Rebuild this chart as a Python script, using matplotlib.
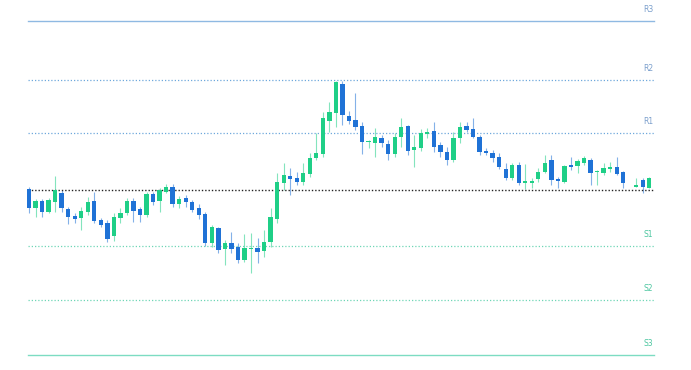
import numpy as np
import matplotlib
matplotlib.use("Agg")
import matplotlib.pyplot as plt

nan = np.nan
opens = [1.0851, 1.0832, 1.0839, 1.0828, 1.0838, 1.0847, 1.0831, 1.0824, 1.0822, 1.0828,
         1.0839, 1.0820, 1.0817, 1.0804, 1.0822, 1.0827, 1.0839, 1.0831, 1.0825, 1.0846,
         1.0839, 1.0848, 1.0853, 1.0836, 1.0842, 1.0838, 1.0832, 1.0826, 1.0797, 1.0812,
         1.0791, 1.0797, 1.0793, 1.0780, 1.07905, 1.0792, 1.0789, 1.0798, 1.0821, 1.0857,
         1.0864, 1.0862, 1.0858, 1.0866, 1.0882, 1.0886, 1.0919, 1.0927, 1.0956, 1.0924,
         1.0920, 1.0914, 1.0898, 1.0897, 1.0902, 1.0896, 1.0886, 1.0903, 1.0914, 1.0890,
         1.0892, 1.0906, 1.0909, 1.0895, 1.0888, 1.0880, 1.0902, 1.0914, 1.0911, 1.0903,
         1.0889, 1.0887, 1.0883, 1.0871, 1.0862, 1.0875, 1.08575, 1.08575, 1.0861, 1.0868,
         1.0880, 1.0861, 1.0858, 1.0875, 1.0874, 1.0877, 1.0880, 1.0868, 1.0867, 1.0871,
         1.0873, 1.0868, nan, 1.08535, 1.0860, 1.0852]
highs = [1.0853, 1.0841, 1.0841, 1.0842, 1.0864, 1.0850, 1.0833, 1.0827, 1.0833, 1.0843,
         1.0848, 1.0822, 1.0820, 1.0827, 1.0832, 1.0842, 1.0842, 1.0833, 1.0848, 1.0848,
         1.0852, 1.0856, 1.0856, 1.0844, 1.0845, 1.0840, 1.0836, 1.0828, 1.0815, 1.0813,
         1.0800, 1.0808, 1.0797, 1.0806, 1.0807, 1.0802, 1.0810, 1.0832, 1.0867, 1.0877,
         1.0872, 1.0868, 1.0877, 1.0887, 1.0907, 1.0928, 1.0938, 1.0959, 1.0959, 1.0929,
         1.0947, 1.0918, 1.0900, 1.0912, 1.0905, 1.0900, 1.0907, 1.0922, 1.0915, 1.0905,
         1.0911, 1.0912, 1.0918, 1.0898, 1.0893, 1.0908, 1.0918, 1.0918, 1.0922, 1.0905,
         1.0892, 1.0890, 1.0887, 1.0877, 1.0877, 1.0878, 1.0876, 1.0862, 1.0872, 1.0885,
         1.0885, 1.0863, 1.0875, 1.0883, 1.0881, 1.0884, 1.0882, 1.0870, 1.0877, 1.0878,
         1.0883, 1.0869, nan, 1.0862, 1.0862, 1.0863]
lows = [1.0827, 1.0823, 1.0823, 1.0827, 1.0828, 1.0828, 1.0816, 1.0817, 1.0810, 1.0825,
        1.0817, 1.0813, 1.0798, 1.0799, 1.0817, 1.0825, 1.0818, 1.0818, 1.0823, 1.0835,
        1.0828, 1.0847, 1.0833, 1.0832, 1.0833, 1.0828, 1.0821, 1.0794, 1.0793, 1.0787,
        1.0775, 1.0787, 1.0777, 1.0778, 1.0767, 1.0777, 1.0783, 1.0793, 1.0817, 1.0850,
        1.0845, 1.0855, 1.0855, 1.0863, 1.0880, 1.0883, 1.0908, 1.0913, 1.0915, 1.0916,
        1.0910, 1.0886, 1.0892, 1.0883, 1.0893, 1.0880, 1.0883, 1.0893, 1.0885, 1.0873,
        1.0889, 1.0902, 1.0888, 1.0883, 1.0875, 1.0878, 1.0897, 1.0908, 1.0902, 1.0885,
        1.0885, 1.0878, 1.0871, 1.0860, 1.0860, 1.0855, 1.0851, 1.0852, 1.0858, 1.0867,
        1.0855, 1.0852, 1.0857, 1.0870, 1.0867, 1.0875, 1.0855, 1.0855, 1.0865, 1.0868,
        1.0865, 1.0852, nan, 1.0853, 1.0847, 1.0852]
closes = [1.0832, 1.0839, 1.0828, 1.0840, 1.0850, 1.0832, 1.0823, 1.0821, 1.0829, 1.0838,
          1.0819, 1.0815, 1.0801, 1.0823, 1.0827, 1.0839, 1.0829, 1.0825, 1.0846, 1.0838,
          1.0850, 1.0853, 1.0836, 1.0841, 1.0838, 1.0830, 1.0825, 1.0797, 1.0813, 1.0790,
          1.0797, 1.0791, 1.0780, 1.0792, 1.0792, 1.0788, 1.0798, 1.0823, 1.0858, 1.0865,
          1.0861, 1.0858, 1.0867, 1.0882, 1.0887, 1.0922, 1.0928, 1.0958, 1.0925, 1.0919,
          1.0913, 1.0898, 1.0899, 1.0903, 1.0897, 1.0886, 1.0903, 1.0913, 1.0889, 1.0893,
          1.0907, 1.0908, 1.0893, 1.0888, 1.0880, 1.0902, 1.0913, 1.0910, 1.0903, 1.0888,
          1.0887, 1.0882, 1.0873, 1.0862, 1.0875, 1.0857, 1.08585, 1.08585, 1.0868, 1.0877,
          1.0860, 1.0859, 1.0874, 1.0873, 1.0879, 1.0882, 1.0867, 1.0869, 1.0872, 1.0873,
          1.0866, 1.0857, nan, 1.08545, 1.0853, 1.0862]

level_names = ["R3", "R2", "R1", "S1", "S2", "S3"]
level_values = [1.1019, 1.0960, 1.0907, 1.0794, 1.0740, 1.0685]
pivot_value = 1.0850

UP = "#1fcf87"
DOWN = "#1f72d6"
R_LINE = "#6fa8dc"
R_SOLID = "#8fb9e2"
R_TEXT = "#7b9fcc"
S_LINE = "#6fd6b6"
S_SOLID = "#7ddcc2"
S_TEXT = "#4cc6a0"

o = np.array(opens); h = np.array(highs); l = np.array(lows); c = np.array(closes)
n = len(o)
idx = np.arange(n)

fig = plt.figure(figsize=(6.91, 3.70), dpi=100)
ax = fig.add_axes([0, 0, 1, 1])
ax.set_axis_off()

x_start = -0.15
x_end = n - 1 + 0.7

# levels
for name, val in zip(level_names, level_values):
    is_r = name.startswith("R")
    tc = R_TEXT if is_r else S_TEXT
    if name in ("R3", "S3"):
        ax.plot([x_start, x_end], [val, val], color=R_SOLID if is_r else S_SOLID,
                lw=1.0, zorder=1)
    else:
        ax.plot([x_start, x_end], [val, val], color=R_LINE if is_r else S_LINE, lw=0.9,
                linestyle=(0, (1, 1.6)), zorder=1)
    ax.annotate(name, xy=(x_end - 0.1, val), xytext=(0, 8), textcoords="offset points",
                ha="right", va="center", fontsize=5.5, color=tc, family="DejaVu Sans")

ax.plot([x_start, x_end], [pivot_value, pivot_value], color="#222222", lw=1.0,
        linestyle=(0, (1, 1.4)), zorder=3)

# candles
w = 0.66
for i in idx:
    if np.isnan(o[i]):
        continue
    up = c[i] >= o[i]
    col = UP if up else DOWN
    ax.vlines(i, l[i], h[i], color=col, lw=0.8, alpha=0.55, zorder=2)
    bottom = min(o[i], c[i])
    height = max(abs(c[i] - o[i]), 0.00012)
    ax.bar(i, height, width=w, bottom=bottom, color=col, linewidth=0, zorder=4)

ax.set_xlim(-4.44, 101.38)
ax.set_ylim(1.0670, 1.1040)

fig.savefig("out.png", dpi=100)
